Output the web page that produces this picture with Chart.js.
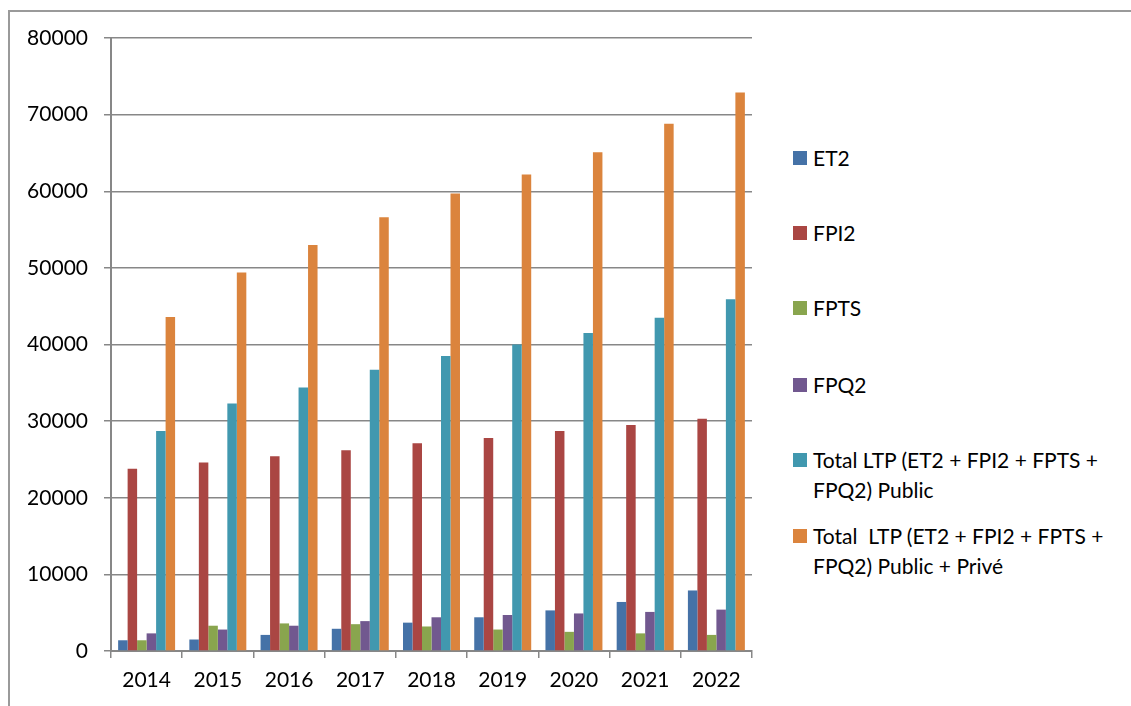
<!DOCTYPE html>
<html>
<head>
<meta charset="utf-8">
<script src="https://cdn.jsdelivr.net/npm/chart.js@4.4.1/dist/chart.umd.min.js"></script>
<style>
  html, body { margin:0; padding:0; background:#fff; }
  body { width:1131px; height:706px; position:relative; overflow:hidden; font-family:Lato, "Open Sans", sans-serif; }
  #frame { position:absolute; left:8px; top:10px; width:1140px; height:720px; border:2px solid #9a9a9a; box-sizing:border-box; }
  #wrap { position:absolute; left:0; top:0; width:760px; height:706px; }
  #legend { position:absolute; left:0; top:0; }
  .item { position:absolute; left:793px; width:320px; font-size:21px; line-height:30px; color:#000; white-space:pre-wrap; padding-left:20px; box-sizing:border-box; }
  .sw { position:absolute; left:0; top:8px; width:14px; height:14px; }
</style>
</head>
<body>
<div id="frame"></div>
<div id="wrap"><canvas id="chart" width="760" height="706"></canvas></div>
<div id="legend"></div>
<script>
const years = ['2014','2015','2016','2017','2018','2019','2020','2021','2022'];
const yTicks = [0,10000,20000,30000,40000,50000,60000,70000,80000];

const et2     = [1400, 1500, 2100, 2900, 3700, 4400, 5300, 6400, 7900];
const fpi2    = [23800, 24600, 25400, 26200, 27100, 27800, 28700, 29500, 30300];
const fpts    = [1400, 3300, 3600, 3500, 3200, 2800, 2500, 2300, 2100];
const fpq2    = [2300, 2800, 3300, 3900, 4400, 4700, 4900, 5100, 5400];
const totPub  = [28700, 32300, 34400, 36700, 38500, 40000, 41500, 43500, 45900];
const totAll  = [43600, 49400, 53000, 56600, 59700, 62200, 65100, 68800, 72900];

const labels = ['ET2','FPI2','FPTS','FPQ2',
  'Total LTP (ET2 + FPI2 + FPTS + FPQ2) Public',
  'Total  LTP (ET2 + FPI2 + FPTS + FPQ2) Public + Privé'];
const colors = ['#4572A7','#AA4643','#89A54E','#71588F','#4198AF','#DB843D'];
const series = [et2, fpi2, fpts, fpq2, totPub, totAll];

// legend rows (top of first text line)
const legendTops = [143, 218, 293, 370, 445, 521];

const grey = '#878787';
const font = { family:'Lato', size:21 };

const chart = new Chart(document.getElementById('chart'), {
  type:'bar',
  data:{
    labels: years,
    datasets: series.map((d,i)=>({
      label: labels[i], data: d, backgroundColor: colors[i],
      borderWidth: 0, categoryPercentage: 0.8, barPercentage: 1.0
    }))
  },
  options:{
    responsive:false,
    animation:false,
    devicePixelRatio:1,
    layout:{ padding:{ left:0, top:38, right:8, bottom:0 } },
    plugins:{ legend:{ display:false }, tooltip:{ enabled:false } },
    scales:{
      x:{
        grid:{ drawOnChartArea:false, drawTicks:true, tickLength:7, color:grey, lineWidth:1.5, offset:true },
        border:{ display:true, color:grey, width:2 },
        ticks:{ color:'#000', font:font, padding:10, maxRotation:0 },
        afterFit: s => { s.height = 55; }
      },
      y:{
        min:0, max:80000,
        afterBuildTicks: s => { s.ticks = yTicks.map(v=>({value:v})); },
        grid:{ color:grey, lineWidth:1.5, tickLength:7 },
        border:{ display:true, color:grey, width:2 },
        ticks:{ color:'#000', font:font, padding:16, callback: v => String(v) },
        afterFit: s => { s.width = 111; }
      }
    }
  }
});

// html legend built from the datasets
const lg = document.getElementById('legend');
chart.data.datasets.forEach((ds,i)=>{
  const it = document.createElement('div');
  it.className = 'item';
  it.style.top = legendTops[i] + 'px';
  const sw = document.createElement('span');
  sw.className = 'sw';
  sw.style.background = ds.backgroundColor;
  it.appendChild(sw);
  it.appendChild(document.createTextNode(ds.label));
  lg.appendChild(it);
});
</script>
</body>
</html>
